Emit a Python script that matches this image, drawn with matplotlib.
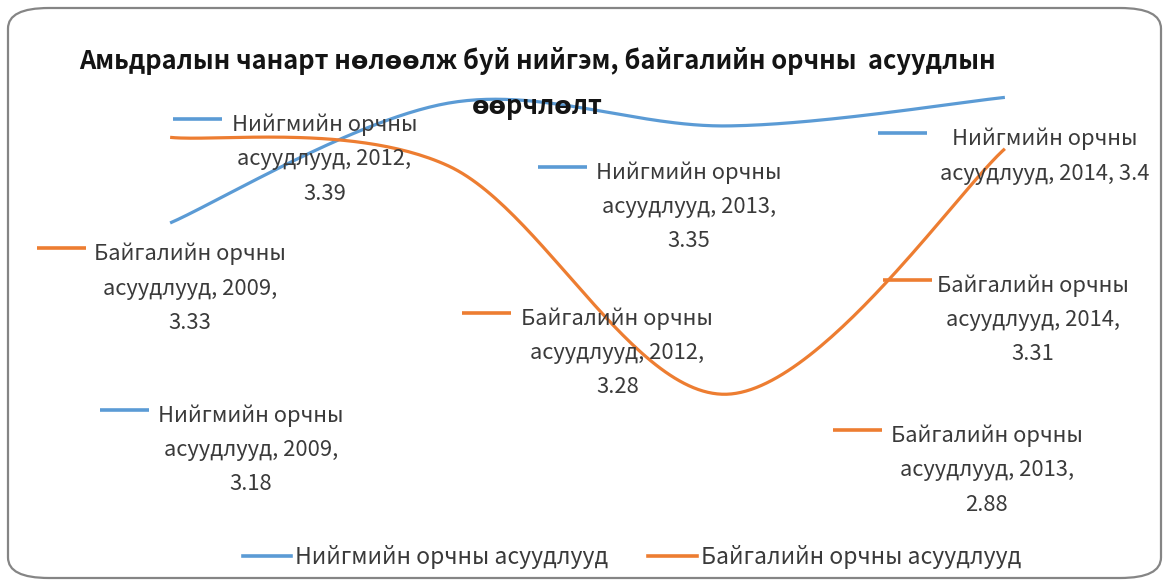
import numpy as np
import matplotlib
matplotlib.use('Agg')
import matplotlib.pyplot as plt
from matplotlib.patches import FancyBboxPatch
from matplotlib.lines import Line2D
from matplotlib.transforms import IdentityTransform

# ---------------- data ----------------
categories = ['2009', '2012', '2013', '2014']
series_names = ['Нийгмийн орчны асуудлууд', 'Байгалийн орчны асуудлууд']
social = [3.18, 3.39, 3.35, 3.40]
nature = [3.33, 3.28, 2.88, 3.31]
title = 'Амьдралын чанарт нөлөөлж буй нийгэм, байгалийн орчны  асуудлын\nөөрчлөлт'

colors = ['#5B9BD5', '#ED7D31']
FONT = ['Noto Sans CJK SC', 'DejaVu Sans']
plt.rcParams['font.family'] = FONT

W, H = 1169, 586
fig = plt.figure(figsize=(W / 100, H / 100), dpi=100)

# rounded chart border
border = FancyBboxPatch((8 / W, 8 / H), (W - 16) / W, (H - 16) / H,
                        boxstyle='round,pad=0,rounding_size=0.035',
                        transform=fig.transFigure, facecolor='white',
                        edgecolor='#858585', linewidth=1.6, zorder=-5)
fig.patches.append(border)

# axes: y from 2.7 (bottom) to 3.5 (top)
top_px, bot_px = 40.3, 497.0
ax = fig.add_axes([31 / W, (H - bot_px) / H, (1144 - 31) / W, (bot_px - top_px) / H])
ax.set_zorder(1)
ax.set_xlim(-0.5, len(categories) - 0.5)
ax.set_ylim(2.7, 3.5)
ax.axis('off')
ax.patch.set_alpha(0)


def excel_smooth(y, n=60):
    y = np.asarray(y, float)
    x = np.arange(len(y), dtype=float)
    P = np.column_stack([x, y])
    out = []
    for i in range(len(P) - 1):
        p0 = P[i - 1] if i > 0 else P[i]
        p1, p2 = P[i], P[i + 1]
        p3 = P[i + 2] if i + 2 < len(P) else P[i + 1]
        c1 = p1 + (p2 - p0) / 6.0
        c2 = p2 - (p3 - p1) / 6.0
        t = np.linspace(0, 1, n)[:, None]
        seg = ((1 - t) ** 3) * p1 + 3 * ((1 - t) ** 2) * t * c1 + 3 * (1 - t) * t ** 2 * c2 + t ** 3 * p2
        out.append(seg if i == 0 else seg[1:])
    out = np.vstack(out)
    return out[:, 0], out[:, 1]


for vals, c in zip([social, nature], colors):
    xs, ys = excel_smooth(vals)
    ax.plot(xs, ys, color=c, lw=2.3, solid_capstyle='butt', zorder=2)

# ---------------- data labels ----------------
# (series index, category index, key dx, key dy, text centre dx, two-line?)  offsets in pixels, y down
label_layout = [
    (0, 1, -275, 16, -124, False),
    (1, 0, -133, 111, 20, False),
    (0, 0, -70, 187, 81, False),
    (0, 2, -189, 41, -38, False),
    (1, 1, 14, 147, 169, False),
    (0, 3, -127, 36, 40, True),
    (1, 3, -122, 131, 28, False),
    (1, 2, 106, 36, 260, False),
]
series_vals = [social, nature]
KEY_LEN = 49
LFS = 15.8
for s, i, kdx, kdy, tcx, two in label_layout:
    v = series_vals[s][i]
    words = series_names[s].split(' ')
    first = ' '.join(words[:2])
    val = f'{v:g}'
    if two:
        txt = f'{first}\n{words[2]}, {categories[i]}, {val}'
    else:
        txt = f'{first}\n{words[2]}, {categories[i]},\n{val}'
    px, py = ax.transData.transform((i, v))
    ky = py - kdy
    fig.lines.append(Line2D([px + kdx, px + kdx + KEY_LEN], [ky, ky], transform=IdentityTransform(),
                            color=colors[s], lw=2.6, solid_capstyle='butt', zorder=3))
    fig.text(px + tcx, ky + 5.5, txt, transform=IdentityTransform(), ha='center', va='top',
             multialignment='center', fontsize=LFS, color='#3a3a3a', linespacing=1.72, zorder=5)

# ---------------- title ----------------
fig.text(537 / W, (H - 47) / H, title, ha='center', va='top', fontsize=18.3,
         fontweight='bold', color='#141414', linespacing=1.87, zorder=6)

# ---------------- legend ----------------
handles = [Line2D([0], [0], color=c, lw=2.6) for c in colors]
fig.legend(handles, series_names, loc='center', bbox_to_anchor=(632 / W, (H - 557) / H),
           ncol=2, frameon=False, fontsize=16.5, handlelength=2.1, handletextpad=0.17,
           columnspacing=1.75, labelcolor='#3a3a3a')

fig.savefig('out.png', dpi=100)
